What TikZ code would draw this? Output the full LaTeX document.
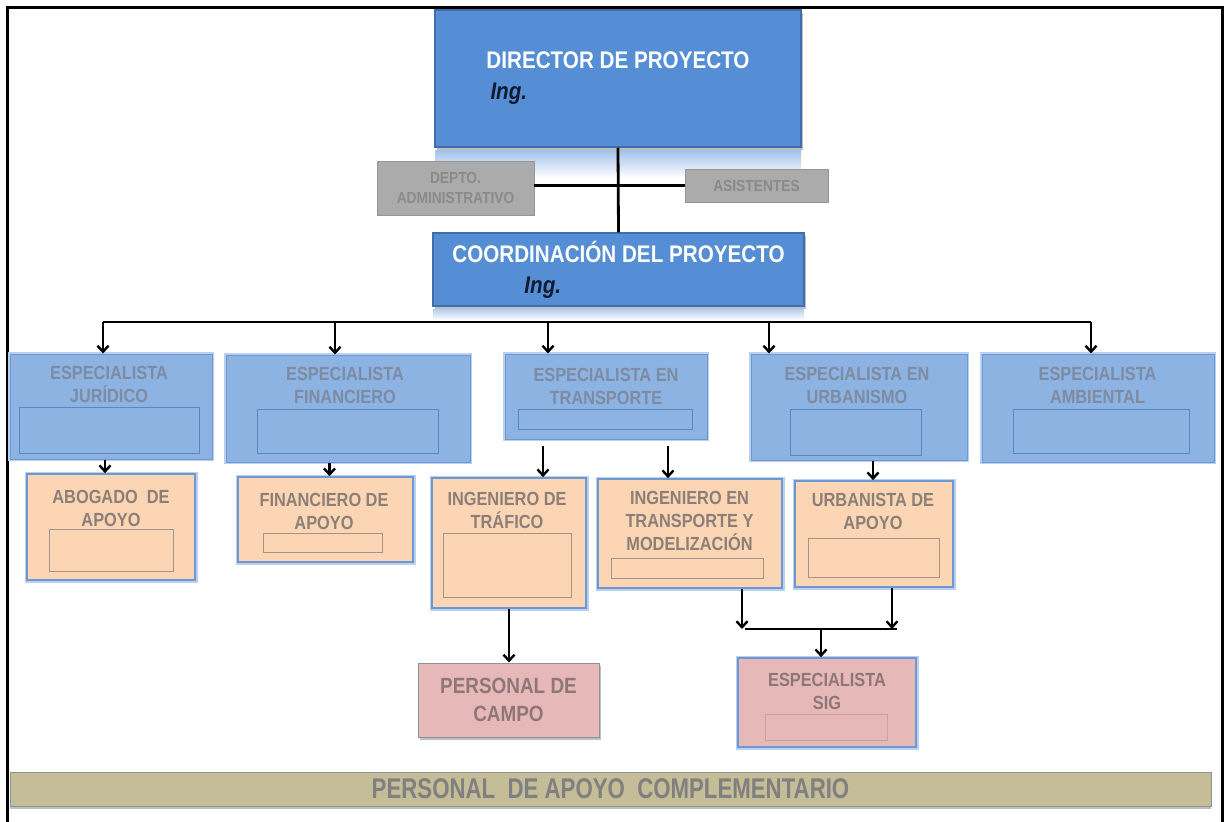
\documentclass[tikz,border=0pt]{standalone}
\usepackage{fontspec}
\setmainfont{Liberation Sans}[FakeStretch=0.86]
\newfontfamily\barfont{Liberation Sans}[FakeStretch=0.78]
\usetikzlibrary{positioning, arrows.meta, calc, shadows}
\definecolor{dirBlue}{HTML}{558ED5}
\definecolor{dirEdge}{HTML}{3F6DAE}
\definecolor{ingInk}{HTML}{101A30}
\definecolor{staffGray}{HTML}{ABABAB}
\definecolor{staffEdge}{HTML}{959595}
\definecolor{staffText}{HTML}{8A8A8A}
\definecolor{specBlue}{HTML}{8DB3E2}
\definecolor{specEdge}{HTML}{6E98D4}
\definecolor{specGlow}{HTML}{B9D0EE}
\definecolor{specText}{HTML}{7D8BA3}
\definecolor{innerEdge}{HTML}{5B86C4}
\definecolor{aidPeach}{HTML}{FCD5B5}
\definecolor{aidText}{HTML}{8C7F78}
\definecolor{aidInner}{HTML}{A39489}
\definecolor{fieldPink}{HTML}{E6B9B8}
\definecolor{fieldText}{HTML}{8E7777}
\definecolor{fieldInner}{HTML}{C9A2A8}
\definecolor{barTan}{HTML}{C4BD97}
\definecolor{barEdge}{HTML}{8A9696}
\definecolor{barText}{HTML}{808080}

\begin{document}
\begin{tikzpicture}[x=1pt, y=-1pt,
  every node/.style={font=\bfseries, align=center, inner sep=0pt},
  lead/.style={
    fill=dirBlue,
    draw=dirEdge,
    line width=1.5pt,
    text=white,
    align=left,
    font=\bfseries\fontsize{24}{31}\selectfont,
    drop shadow={shadow xshift=1.5pt, shadow yshift=-3pt, opacity=0.5}
  },
  staff/.style={
    fill=staffGray,
    draw=staffEdge,
    line width=0.8pt,
    text=staffText,
    font=\bfseries\fontsize{16}{20}\selectfont
  },
  spec/.style={
    fill=specBlue,
    draw=specEdge,
    line width=1pt,
    preaction={draw=specGlow, line width=4.5pt}
  },
  spectxt/.style={text=specText, font=\bfseries\fontsize{19}{23}\selectfont},
  specin/.style={draw=innerEdge, line width=0.8pt},
  aid/.style={
    fill=aidPeach,
    draw=specEdge,
    line width=1.6pt,
    preaction={draw=specGlow, line width=5pt}
  },
  aidtxt/.style={text=aidText, font=\bfseries\fontsize{19}{23}\selectfont},
  aidin/.style={draw=aidInner, line width=0.8pt},
  field/.style={
    fill=fieldPink,
    draw=barEdge,
    line width=1pt,
    text=fieldText,
    font=\bfseries\fontsize{22}{28}\selectfont,
    drop shadow={shadow xshift=1.5pt, shadow yshift=-3pt, opacity=0.5}
  },
  fieldin/.style={draw=fieldInner, line width=0.8pt},
  support/.style={
    fill=barTan,
    draw=barEdge,
    line width=1pt,
    text=barText,
    font=\barfont\bfseries\fontsize{28.5}{32}\selectfont,
    drop shadow={shadow xshift=0pt, shadow yshift=-3pt, opacity=0.5}
  },
  wire/.style={draw, line width=2.8pt},
  link/.style={draw, line width=2.4pt, -{Straight Barb[length=6pt, width=11pt]}}
]
\useasboundingbox (0,0) rectangle (1227,822);

% frame
\draw[line width=3pt] (7,822) -- (7,7) -- (1222,7) -- (1222,822);

% reflections
\shade[top color=dirBlue!55, bottom color=white] (435,150) rectangle (801,178);
\shade[top color=dirBlue!45, bottom color=white] (433,309) rectangle (804,320);

% direction
\node[lead, minimum width=366pt, minimum height=137pt] (dir) at (618,78.5)
{DIRECTOR DE PROYECTO\\\hspace*{4pt}{\color{ingInk}\itshape Ing.}};
\node[lead, minimum width=371pt, minimum height=73pt] (coord) at (618.5,269.5)
{COORDINACIÓN DEL PROYECTO\\\hspace*{72pt}{\color{ingInk}\itshape Ing.}};

\node[staff, minimum width=157pt, minimum height=54pt] (depto) at (455.5,188)
{DEPTO.\\ADMINISTRATIVO};
\node[staff, minimum width=143pt, minimum height=33pt] (asis) at (756.5,185.5)
{ASISTENTES};

\draw[wire] (dir.south) -- (coord.north);
\draw[wire] (depto.east |- asis.west) -- (asis.west);

% specialists
\node[spec, minimum width=202pt, minimum height=105pt] (jur) at (111,406.5) {};
\node[spectxt] (jurt) at (109,384) {ESPECIALISTA\\JURÍDICO};
\node[specin, minimum width=180pt, minimum height=46pt] (jurin) at (109,430) {};

\node[spec, minimum width=244pt, minimum height=107pt] (fin) at (348,408.5) {};
\node[spectxt] (fint) at (345,385) {ESPECIALISTA\\FINANCIERO};
\node[specin, minimum width=181pt, minimum height=44pt] (finin) at (347.5,431) {};

\node[spec, minimum width=202pt, minimum height=85pt] (trans) at (606,396.5) {};
\node[spectxt] (transt) at (606,386) {ESPECIALISTA EN\\TRANSPORTE};
\node[specin, minimum width=174pt, minimum height=20pt] (transin) at (605,419) {};

\node[spec, minimum width=216pt, minimum height=106pt] (urb) at (859,407) {};
\node[spectxt] (urbt) at (857,385) {ESPECIALISTA EN\\URBANISMO};
\node[specin, minimum width=131pt, minimum height=46pt] (urbin) at (855.5,432) {};

\node[spec, minimum width=232pt, minimum height=108pt] (amb) at (1098,408) {};
\node[spectxt] (ambt) at (1097.5,385) {ESPECIALISTA\\AMBIENTAL};
\node[specin, minimum width=176pt, minimum height=44pt] (ambin) at (1101,431) {};

% support staff
\node[aid, minimum width=168pt, minimum height=106pt] (abo) at (111,527) {};
\node[aidtxt] (abot) at (111,508.5) {ABOGADO~~DE\\APOYO};
\node[aidin, minimum width=124pt, minimum height=42pt] (aboin) at (111,550) {};

\node[aid, minimum width=175pt, minimum height=85pt] (fda) at (325.5,519.5) {};
\node[aidtxt] (fdat) at (324,511.5) {FINANCIERO DE\\APOYO};
\node[aidin, minimum width=119pt, minimum height=19pt] (fdain) at (322.5,542.5) {};

\node[aid, minimum width=154pt, minimum height=130pt] (tra) at (509,543) {};
\node[aidtxt] (trat) at (507,510) {INGENIERO DE\\TRÁFICO};
\node[aidin, minimum width=128pt, minimum height=64pt] (train) at (507,565) {};

\node[aid, minimum width=184pt, minimum height=109pt] (mod) at (690,533.5) {};
\node[aidtxt] (modt) at (689.5,521) {INGENIERO EN\\TRANSPORTE Y\\MODELIZACIÓN};
\node[aidin, minimum width=152pt, minimum height=20pt] (modin) at (687,568) {};

\node[aid, minimum width=158pt, minimum height=106pt] (uap) at (874,534) {};
\node[aidtxt] (uapt) at (873,511.5) {URBANISTA DE\\APOYO};
\node[aidin, minimum width=131pt, minimum height=39pt] (uapin) at (873.5,557.5) {};

% field level
\node[field, minimum width=181pt, minimum height=74pt] (campo) at (508.5,700)
{PERSONAL DE\\CAMPO};

\node[aid, fill=fieldPink, minimum width=178pt, minimum height=89pt] (sig) at (827,702.5) {};
\node[aidtxt, text=fieldText] (sigt) at (827,691.5) {ESPECIALISTA\\SIG};
\node[fieldin, minimum width=122pt, minimum height=26pt] (sigin) at (826,727) {};

\node[support, minimum width=1201pt, minimum height=34pt] (apoyo) at (610.5,789)
{PERSONAL~~DE APOYO~~COMPLEMENTARIO};

% distribution bus
\coordinate (b1) at (103,322);
\coordinate (b2) at (335,322);
\coordinate (b3) at (548,322);
\coordinate (b4) at (769,322);
\coordinate (b5) at (1091,322);
\draw[wire] (b1) -- (b5);
\draw[link] (b1) -- (b1 |- jur.north);
\draw[link] (b2) -- (b2 |- fin.north);
\draw[link] (b3) -- (b3 |- trans.north);
\draw[link] (b4) -- (b4 |- urb.north);
\draw[link] (b5) -- (b5 |- amb.north);

\draw[link] ($(jur.south)+(-6,0)$) -- ($(abo.north)+(-6,0)$);
\draw[link] ($(fda.north |- fin.south)+(4,0)$) -- ($(fda.north)+(4,0)$);
\draw[link] ($(tra.north |- trans.south)+(34,6)$) -- ($(tra.north)+(34,0)$);
\draw[link] ($(mod.north |- trans.south)+(-22,6)$) -- ($(mod.north)+(-22,0)$);
\draw[link] ($(urb.south)+(14,0)$) -- ($(uap.north)+(-1,0)$);
\draw[link] (tra.south) -- (tra.south |- campo.north);

% join towards SIG
\coordinate (jL) at (742,629);
\coordinate (jR) at (892,629);
\coordinate (jM) at (821,629);
\draw[link] (jL |- mod.south) -- (jL);
\draw[link] (jR |- uap.south) -- (jR);
\draw[wire] ($(jL)+(3,0)$) -- ($(jR)+(5,0)$);
\draw[link] (jM) -- (jM |- sig.north);

\end{tikzpicture}
\end{document}
